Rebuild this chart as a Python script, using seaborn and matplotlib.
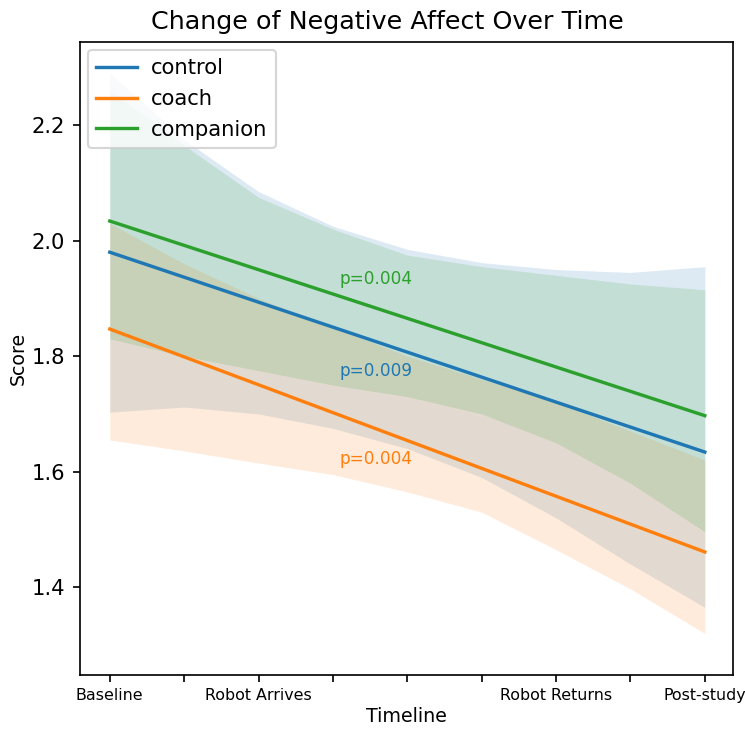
import numpy as np
import pandas as pd
import matplotlib
matplotlib.use("Agg")
import matplotlib.pyplot as plt
import seaborn as sns

# ---------------- data ----------------
groups = ["control", "coach", "companion"]
colors = ["#1f77b4", "#ff7f0e", "#2ca02c"]

fit_x = [0, 4]
fit_start = [1.980, 1.847, 2.034]
fit_end = [1.634, 1.461, 1.697]

band_x = [0, 0.5, 1, 1.5, 2, 2.5, 3, 3.5, 4]
control_upper = [2.29, 2.175, 2.085, 2.025, 1.985, 1.962, 1.950, 1.945, 1.955]
control_lower = [1.703, 1.712, 1.700, 1.675, 1.640, 1.590, 1.520, 1.440, 1.365]
coach_upper = [2.030, 1.960, 1.900, 1.850, 1.800, 1.760, 1.720, 1.670, 1.620]
coach_lower = [1.655, 1.636, 1.615, 1.595, 1.565, 1.530, 1.465, 1.397, 1.320]
companion_upper = [2.260, 2.165, 2.075, 2.020, 1.975, 1.955, 1.940, 1.925, 1.915]
companion_lower = [1.830, 1.800, 1.775, 1.750, 1.730, 1.700, 1.650, 1.580, 1.496]

p_texts = ["p=0.009", "p=0.004", "p=0.004"]
p_x = 1.79
p_y = [1.774, 1.622, 1.933]

tick_pos = [0, 0.5, 1, 1.5, 2, 2.5, 3, 3.5, 4]
tick_labels = ["Baseline", "", "Robot Arrives", "", "", "", "Robot Returns", "", "Post-study"]

# ---------------- figure ----------------
DPI = 152
fig = plt.figure(figsize=(745 / DPI, 729 / DPI), dpi=DPI)
ax = fig.add_axes([0.1074, 0.0741, 0.984 - 0.1074, 0.9424 - 0.0741])

uppers = [control_upper, coach_upper, companion_upper]
lowers = [control_lower, coach_lower, companion_lower]

rows = []
for g, s, e in zip(groups, fit_start, fit_end):
    rows.append({"group": g, "x": fit_x[0], "score": s})
    rows.append({"group": g, "x": fit_x[1], "score": e})
df = pd.DataFrame(rows)

sns.lineplot(data=df, x="x", y="score", hue="group", hue_order=groups,
             palette=colors, linewidth=1.6, legend=False, ax=ax, zorder=2)

for up, lo, c in zip(uppers, lowers, colors):
    ax.fill_between(band_x, lo, up, color=c, alpha=0.15, linewidth=0, zorder=1)

for t, y, c in zip(p_texts, p_y, colors):
    ax.text(p_x, y, t, color=c, fontsize=8, ha="center", va="center")

ax.legend(ax.lines[:3], groups, loc="upper left", fontsize=10,
          handlelength=1.9, handletextpad=0.7, borderaxespad=0.38)

ax.set_xlim(-0.2, 4.19)
ax.set_ylim(1.248, 2.344)
ax.set_xticks(tick_pos)
ax.set_xticklabels(tick_labels, fontsize=7.5)
ax.tick_params(axis="x", pad=2.5)
ax.tick_params(axis="y", labelsize=10)
ax.set_yticks([1.4, 1.6, 1.8, 2.0, 2.2])
ax.set_xlabel("Timeline", fontsize=9, labelpad=2)
ax.set_ylabel("Score", fontsize=9, labelpad=2)
ax.set_title("Change of Negative Affect Over Time", fontsize=12, x=0.470)

fig.savefig("out.png", dpi=DPI)
